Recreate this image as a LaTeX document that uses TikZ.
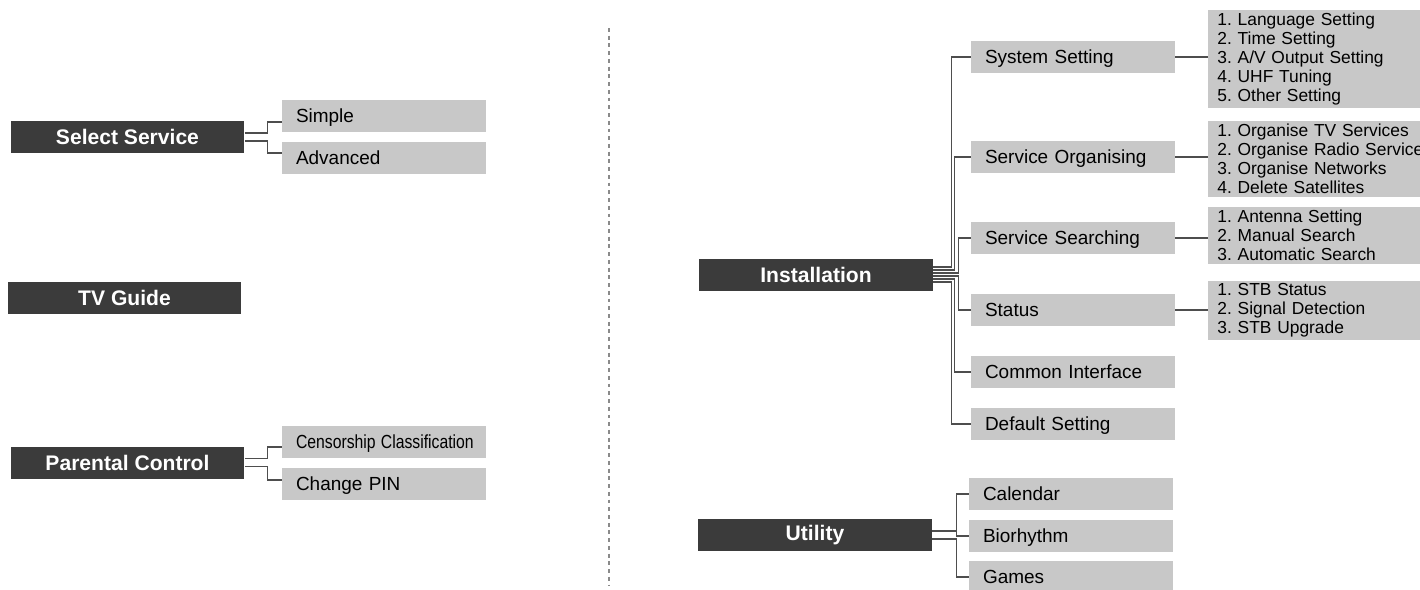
\documentclass[tikz,border=0pt]{standalone}
\usepackage{fontspec}
\setmainfont{Liberation Sans}
\usetikzlibrary{positioning}
\definecolor{boxdark}{HTML}{3B3B3B}
\definecolor{boxgray}{HTML}{C8C8C8}
\definecolor{linkgray}{HTML}{4E4E4E}
\definecolor{sepgray}{HTML}{8A8A8A}
\tikzset{
    menu/.style={fill=boxdark, text=white, font=\fontsize{12}{14}\selectfont\bfseries,
        minimum width=4.68cm, minimum height=0.64cm, inner sep=0pt},
    item/.style={fill=boxgray, font=\fontsize{10.8}{13}\selectfont, text width=3.52cm,
        align=left, inner xsep=0.28cm, inner ysep=0pt, minimum height=0.64cm,
        text height=8pt, text depth=0.6pt},
    sublist/.style={fill=boxgray, font=\fontsize{9.9}{10.9}\selectfont\frenchspacing,
        text width=4.4cm, align=left, inner xsep=0.18cm, inner ysep=1.5pt, anchor=west},
    link/.style={draw=linkgray, line width=0.7pt},
    sep/.style={draw=sepgray, line width=1.3pt, dash pattern=on 2.2pt off 2.2pt}
}
\begin{document}
\begin{tikzpicture}[x=0.02cm, y=-0.02cm]
        \useasboundingbox (0,0) rectangle (1420,589);
        % Left menus
        \node[menu] (sel) at (127.5,137) {Select Service};
        \node[item] (simple) at (384,116) {Simple};
        \node[item] (adv) at (384,158) {Advanced};
        \node[menu] (tvg) at (124.5,297.5) {TV Guide};
        \node[menu] (par) at (127.5,462.5) {Parental Control};
        \node[item] (cens) at (384,442) {\scalebox{0.83}[1]{Censorship Classification}};
        \node[item] (pin) at (384,484) {Change PIN};
        \draw[link] ([shift={(0,-4)}]sel.east) -- ++(23,0) |- ([shift={(0,6)}]simple.west);
        \draw[link] ([shift={(0,4)}]sel.east) -- ++(23,0) |- ([shift={(0,-5)}]adv.west);
        \draw[link] ([shift={(0,-4)}]par.east) -- ++(23,0) |- ([shift={(0,5)}]cens.west);
        \draw[link] ([shift={(0,4)}]par.east) -- ++(23,0) |- ([shift={(0,-4)}]pin.west);
        % Separator
        \draw[sep] (609,28) -- (609,585);
        % Installation
        \node[menu] (inst) at (816,275) {Installation};
        \node[item] (sys) at (1073,57) {System Setting};
        \node[item] (org) at (1073,157) {Service Organising};
        \node[item] (srch) at (1073,238) {Service Searching};
        \node[item] (stat) at (1073,310) {Status};
        \node[item] (ci) at (1073,372) {Common Interface};
        \node[item] (def) at (1073,424) {Default Setting};
        \node[sublist] (lsys) at (1208,59) {1. Language Setting\\2. Time Setting\\3. A/V Output Setting\\4. UHF Tuning\\5. Other Setting};
        \node[sublist] (lorg) at (1208,159) {1. Organise TV Services\\2. Organise Radio Services\\3. Organise Networks\\4. Delete Satellites};
        \node[sublist] (lsrch) at (1208,235.5) {1. Antenna Setting\\2. Manual Search\\3. Automatic Search};
        \node[sublist] (lstat) at (1208,310.5) {1. STB Status\\2. Signal Detection\\3. STB Upgrade};
        \draw[link] ([shift={(0,-8)}]inst.east) -- ++(18,0) |- (sys.west);
        \draw[link] ([shift={(0,-5)}]inst.east) -- ++(21.5,0) |- (org.west);
        \draw[link] ([shift={(0,-2)}]inst.east) -- ++(25,0) |- (srch.west);
        \draw[link] ([shift={(0,1)}]inst.east) -- ++(25,0) |- (stat.west);
        \draw[link] ([shift={(0,4)}]inst.east) -- ++(21.5,0) |- (ci.west);
        \draw[link] ([shift={(0,7)}]inst.east) -- ++(18,0) |- (def.west);
        \draw[link] (sys.east) -- (sys.east -| lsys.west);
        \draw[link] (org.east) -- (org.east -| lorg.west);
        \draw[link] (srch.east) -- (srch.east -| lsrch.west);
        \draw[link] (stat.east) -- (stat.east -| lstat.west);
        % Utility
        \node[menu] (util) at (815,535) {Utility};
        \node[item] (cal) at (1071,494) {Calendar};
        \node[item] (bio) at (1071,536) {Biorhythm};
        \node[item] (games) at (1071,577) {Games};
        \draw[link] ([shift={(0,-4)}]util.east) -- ++(24,0) coordinate (ujoin) |- (cal.west);
        \draw[link] (ujoin) |- (bio.west);
        \draw[link] ([shift={(0,4)}]util.east) -- ++(24,0) |- (games.west);
    \end{tikzpicture}
\end{document}
